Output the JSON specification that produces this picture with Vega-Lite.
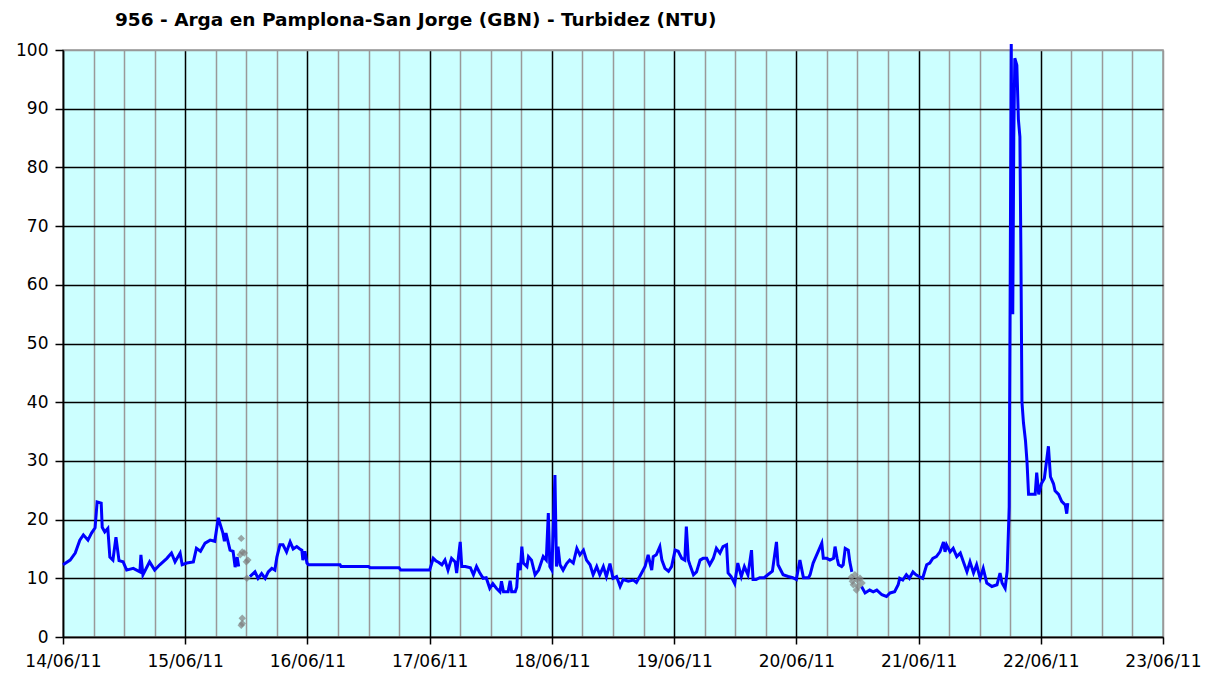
{
  "$schema": "https://vega.github.io/schema/vega-lite/v6.json",
  "width": 1100,
  "height": 587,
  "autosize": {"type": "none"},
  "padding": {"left": 63, "top": 50, "right": 58, "bottom": 40},
  "background": "white",
  "title": {"text": "956 - Arga en Pamplona-San Jorge (GBN) - Turbidez (NTU)", "anchor": "start", "frame": "group", "dx": 52, "fontSize": 18.5, "font": "DejaVu Sans", "fontWeight": "bold", "color": "black", "offset": 9},
  "config": {
    "view": {"fill": "#CCFFFF", "stroke": "#999999", "strokeWidth": 1.5},
    "axis": {"labelFont": "DejaVu Sans", "labelFontSize": 17, "labelColor": "black", "domainColor": "black", "domainWidth": 1.5, "tickColor": "black", "tickWidth": 1.5, "gridWidth": 1.5}
  },
  "datasets": {
    "turb": [
      {"t": "2011-06-14T00:00:00Z", "v": 12.3, "seg": 1},
      {"t": "2011-06-14T01:24:00Z", "v": 13.1, "seg": 1},
      {"t": "2011-06-14T02:24:00Z", "v": 14.3, "seg": 1},
      {"t": "2011-06-14T03:18:00Z", "v": 16.5, "seg": 1},
      {"t": "2011-06-14T04:00:00Z", "v": 17.4, "seg": 1},
      {"t": "2011-06-14T04:54:00Z", "v": 16.5, "seg": 1},
      {"t": "2011-06-14T05:36:00Z", "v": 17.7, "seg": 1},
      {"t": "2011-06-14T06:18:00Z", "v": 18.6, "seg": 1},
      {"t": "2011-06-14T06:42:00Z", "v": 23.0, "seg": 1},
      {"t": "2011-06-14T07:30:00Z", "v": 22.8, "seg": 1},
      {"t": "2011-06-14T07:42:00Z", "v": 18.7, "seg": 1},
      {"t": "2011-06-14T08:12:00Z", "v": 17.9, "seg": 1},
      {"t": "2011-06-14T08:48:00Z", "v": 18.5, "seg": 1},
      {"t": "2011-06-14T09:12:00Z", "v": 13.6, "seg": 1},
      {"t": "2011-06-14T09:48:00Z", "v": 13.1, "seg": 1},
      {"t": "2011-06-14T10:24:00Z", "v": 17.0, "seg": 1},
      {"t": "2011-06-14T11:00:00Z", "v": 13.0, "seg": 1},
      {"t": "2011-06-14T11:48:00Z", "v": 12.8, "seg": 1},
      {"t": "2011-06-14T12:30:00Z", "v": 11.4, "seg": 1},
      {"t": "2011-06-14T13:48:00Z", "v": 11.7, "seg": 1},
      {"t": "2011-06-14T15:06:00Z", "v": 11.1, "seg": 1},
      {"t": "2011-06-14T15:18:00Z", "v": 14.0, "seg": 1},
      {"t": "2011-06-14T15:42:00Z", "v": 10.6, "seg": 1},
      {"t": "2011-06-14T17:00:00Z", "v": 12.8, "seg": 1},
      {"t": "2011-06-14T18:00:00Z", "v": 11.4, "seg": 1},
      {"t": "2011-06-14T19:00:00Z", "v": 12.3, "seg": 1},
      {"t": "2011-06-14T20:24:00Z", "v": 13.4, "seg": 1},
      {"t": "2011-06-14T21:18:00Z", "v": 14.3, "seg": 1},
      {"t": "2011-06-14T22:00:00Z", "v": 12.8, "seg": 1},
      {"t": "2011-06-14T23:00:00Z", "v": 14.3, "seg": 1},
      {"t": "2011-06-14T23:24:00Z", "v": 12.3, "seg": 1},
      {"t": "2011-06-15T00:18:00Z", "v": 12.6, "seg": 1},
      {"t": "2011-06-15T01:36:00Z", "v": 12.8, "seg": 1},
      {"t": "2011-06-15T02:12:00Z", "v": 15.1, "seg": 1},
      {"t": "2011-06-15T03:00:00Z", "v": 14.6, "seg": 1},
      {"t": "2011-06-15T03:54:00Z", "v": 16.0, "seg": 1},
      {"t": "2011-06-15T04:54:00Z", "v": 16.5, "seg": 1},
      {"t": "2011-06-15T05:48:00Z", "v": 16.3, "seg": 1},
      {"t": "2011-06-15T06:30:00Z", "v": 20.3, "seg": 1},
      {"t": "2011-06-15T06:48:00Z", "v": 19.4, "seg": 1},
      {"t": "2011-06-15T07:24:00Z", "v": 17.7, "seg": 1},
      {"t": "2011-06-15T07:42:00Z", "v": 16.3, "seg": 1},
      {"t": "2011-06-15T08:00:00Z", "v": 17.7, "seg": 1},
      {"t": "2011-06-15T08:48:00Z", "v": 14.8, "seg": 1},
      {"t": "2011-06-15T09:24:00Z", "v": 14.6, "seg": 1},
      {"t": "2011-06-15T09:48:00Z", "v": 11.9, "seg": 1},
      {"t": "2011-06-15T10:12:00Z", "v": 13.6, "seg": 1},
      {"t": "2011-06-15T10:30:00Z", "v": 12.0, "seg": 1},
      {"t": "2011-06-15T12:42:00Z", "v": 10.3, "seg": 2},
      {"t": "2011-06-15T13:42:00Z", "v": 11.1, "seg": 2},
      {"t": "2011-06-15T14:18:00Z", "v": 10.0, "seg": 2},
      {"t": "2011-06-15T15:00:00Z", "v": 10.8, "seg": 2},
      {"t": "2011-06-15T15:42:00Z", "v": 10.0, "seg": 2},
      {"t": "2011-06-15T16:18:00Z", "v": 11.1, "seg": 2},
      {"t": "2011-06-15T17:00:00Z", "v": 11.7, "seg": 2},
      {"t": "2011-06-15T17:36:00Z", "v": 11.4, "seg": 2},
      {"t": "2011-06-15T18:00:00Z", "v": 13.6, "seg": 2},
      {"t": "2011-06-15T18:36:00Z", "v": 15.7, "seg": 2},
      {"t": "2011-06-15T19:12:00Z", "v": 15.7, "seg": 2},
      {"t": "2011-06-15T19:54:00Z", "v": 14.5, "seg": 2},
      {"t": "2011-06-15T20:36:00Z", "v": 16.2, "seg": 2},
      {"t": "2011-06-15T21:12:00Z", "v": 15.0, "seg": 2},
      {"t": "2011-06-15T21:54:00Z", "v": 15.4, "seg": 2},
      {"t": "2011-06-15T22:30:00Z", "v": 15.0, "seg": 2},
      {"t": "2011-06-15T22:54:00Z", "v": 14.8, "seg": 2},
      {"t": "2011-06-15T23:06:00Z", "v": 13.1, "seg": 2},
      {"t": "2011-06-15T23:30:00Z", "v": 14.6, "seg": 2},
      {"t": "2011-06-15T23:54:00Z", "v": 12.6, "seg": 2},
      {"t": "2011-06-16T00:12:00Z", "v": 12.3, "seg": 2},
      {"t": "2011-06-16T06:24:00Z", "v": 12.3, "seg": 2},
      {"t": "2011-06-16T06:36:00Z", "v": 12.0, "seg": 2},
      {"t": "2011-06-16T12:00:00Z", "v": 12.0, "seg": 2},
      {"t": "2011-06-16T12:18:00Z", "v": 11.8, "seg": 2},
      {"t": "2011-06-16T18:00:00Z", "v": 11.8, "seg": 2},
      {"t": "2011-06-16T18:18:00Z", "v": 11.4, "seg": 2},
      {"t": "2011-06-17T00:00:00Z", "v": 11.4, "seg": 2},
      {"t": "2011-06-17T00:42:00Z", "v": 13.4, "seg": 2},
      {"t": "2011-06-17T01:12:00Z", "v": 13.0, "seg": 2},
      {"t": "2011-06-17T01:48:00Z", "v": 12.7, "seg": 2},
      {"t": "2011-06-17T02:24:00Z", "v": 12.3, "seg": 2},
      {"t": "2011-06-17T03:00:00Z", "v": 13.1, "seg": 2},
      {"t": "2011-06-17T03:36:00Z", "v": 11.4, "seg": 2},
      {"t": "2011-06-17T04:18:00Z", "v": 13.4, "seg": 2},
      {"t": "2011-06-17T05:00:00Z", "v": 12.8, "seg": 2},
      {"t": "2011-06-17T05:18:00Z", "v": 10.9, "seg": 2},
      {"t": "2011-06-17T05:36:00Z", "v": 13.2, "seg": 2},
      {"t": "2011-06-17T06:00:00Z", "v": 16.2, "seg": 2},
      {"t": "2011-06-17T06:18:00Z", "v": 12.0, "seg": 2},
      {"t": "2011-06-17T07:00:00Z", "v": 12.0, "seg": 2},
      {"t": "2011-06-17T08:00:00Z", "v": 11.8, "seg": 2},
      {"t": "2011-06-17T08:36:00Z", "v": 10.6, "seg": 2},
      {"t": "2011-06-17T09:12:00Z", "v": 12.0, "seg": 2},
      {"t": "2011-06-17T09:48:00Z", "v": 11.0, "seg": 2},
      {"t": "2011-06-17T10:30:00Z", "v": 10.0, "seg": 2},
      {"t": "2011-06-17T11:06:00Z", "v": 10.1, "seg": 2},
      {"t": "2011-06-17T11:48:00Z", "v": 8.3, "seg": 2},
      {"t": "2011-06-17T12:24:00Z", "v": 9.1, "seg": 2},
      {"t": "2011-06-17T13:06:00Z", "v": 8.3, "seg": 2},
      {"t": "2011-06-17T13:48:00Z", "v": 7.7, "seg": 2},
      {"t": "2011-06-17T14:06:00Z", "v": 9.5, "seg": 2},
      {"t": "2011-06-17T14:30:00Z", "v": 7.7, "seg": 2},
      {"t": "2011-06-17T15:24:00Z", "v": 7.7, "seg": 2},
      {"t": "2011-06-17T15:48:00Z", "v": 9.6, "seg": 2},
      {"t": "2011-06-17T16:06:00Z", "v": 7.7, "seg": 2},
      {"t": "2011-06-17T16:48:00Z", "v": 7.7, "seg": 2},
      {"t": "2011-06-17T17:06:00Z", "v": 8.5, "seg": 2},
      {"t": "2011-06-17T17:24:00Z", "v": 12.6, "seg": 2},
      {"t": "2011-06-17T17:48:00Z", "v": 11.4, "seg": 2},
      {"t": "2011-06-17T18:06:00Z", "v": 15.4, "seg": 2},
      {"t": "2011-06-17T18:24:00Z", "v": 12.6, "seg": 2},
      {"t": "2011-06-17T19:06:00Z", "v": 12.0, "seg": 2},
      {"t": "2011-06-17T19:24:00Z", "v": 13.7, "seg": 2},
      {"t": "2011-06-17T20:00:00Z", "v": 13.1, "seg": 2},
      {"t": "2011-06-17T20:42:00Z", "v": 10.6, "seg": 2},
      {"t": "2011-06-17T21:24:00Z", "v": 11.4, "seg": 2},
      {"t": "2011-06-17T22:18:00Z", "v": 13.7, "seg": 2},
      {"t": "2011-06-17T22:54:00Z", "v": 13.1, "seg": 2},
      {"t": "2011-06-17T23:18:00Z", "v": 21.1, "seg": 2},
      {"t": "2011-06-17T23:36:00Z", "v": 12.0, "seg": 2},
      {"t": "2011-06-18T00:00:00Z", "v": 11.4, "seg": 2},
      {"t": "2011-06-18T00:36:00Z", "v": 27.6, "seg": 2},
      {"t": "2011-06-18T00:54:00Z", "v": 12.0, "seg": 2},
      {"t": "2011-06-18T01:12:00Z", "v": 15.4, "seg": 2},
      {"t": "2011-06-18T01:36:00Z", "v": 12.3, "seg": 2},
      {"t": "2011-06-18T02:12:00Z", "v": 11.4, "seg": 2},
      {"t": "2011-06-18T02:54:00Z", "v": 12.5, "seg": 2},
      {"t": "2011-06-18T03:30:00Z", "v": 13.1, "seg": 2},
      {"t": "2011-06-18T04:12:00Z", "v": 12.6, "seg": 2},
      {"t": "2011-06-18T04:54:00Z", "v": 15.1, "seg": 2},
      {"t": "2011-06-18T05:30:00Z", "v": 14.0, "seg": 2},
      {"t": "2011-06-18T06:12:00Z", "v": 14.8, "seg": 2},
      {"t": "2011-06-18T06:48:00Z", "v": 13.1, "seg": 2},
      {"t": "2011-06-18T07:30:00Z", "v": 12.3, "seg": 2},
      {"t": "2011-06-18T08:06:00Z", "v": 10.6, "seg": 2},
      {"t": "2011-06-18T08:48:00Z", "v": 12.0, "seg": 2},
      {"t": "2011-06-18T09:24:00Z", "v": 10.6, "seg": 2},
      {"t": "2011-06-18T10:06:00Z", "v": 12.0, "seg": 2},
      {"t": "2011-06-18T10:42:00Z", "v": 10.3, "seg": 2},
      {"t": "2011-06-18T11:24:00Z", "v": 12.5, "seg": 2},
      {"t": "2011-06-18T12:00:00Z", "v": 10.0, "seg": 2},
      {"t": "2011-06-18T12:42:00Z", "v": 10.3, "seg": 2},
      {"t": "2011-06-18T13:24:00Z", "v": 8.6, "seg": 2},
      {"t": "2011-06-18T14:00:00Z", "v": 9.8, "seg": 2},
      {"t": "2011-06-18T15:00:00Z", "v": 9.5, "seg": 2},
      {"t": "2011-06-18T16:00:00Z", "v": 9.7, "seg": 2},
      {"t": "2011-06-18T16:36:00Z", "v": 9.3, "seg": 2},
      {"t": "2011-06-18T17:18:00Z", "v": 10.4, "seg": 2},
      {"t": "2011-06-18T18:18:00Z", "v": 12.0, "seg": 2},
      {"t": "2011-06-18T18:54:00Z", "v": 14.0, "seg": 2},
      {"t": "2011-06-18T19:36:00Z", "v": 11.4, "seg": 2},
      {"t": "2011-06-18T19:54:00Z", "v": 13.7, "seg": 2},
      {"t": "2011-06-18T20:30:00Z", "v": 14.0, "seg": 2},
      {"t": "2011-06-18T21:12:00Z", "v": 15.4, "seg": 2},
      {"t": "2011-06-18T21:36:00Z", "v": 13.1, "seg": 2},
      {"t": "2011-06-18T22:12:00Z", "v": 11.7, "seg": 2},
      {"t": "2011-06-18T22:54:00Z", "v": 11.2, "seg": 2},
      {"t": "2011-06-18T23:30:00Z", "v": 12.0, "seg": 2},
      {"t": "2011-06-19T00:12:00Z", "v": 14.8, "seg": 2},
      {"t": "2011-06-19T00:48:00Z", "v": 14.6, "seg": 2},
      {"t": "2011-06-19T01:30:00Z", "v": 13.4, "seg": 2},
      {"t": "2011-06-19T02:06:00Z", "v": 13.1, "seg": 2},
      {"t": "2011-06-19T02:24:00Z", "v": 18.8, "seg": 2},
      {"t": "2011-06-19T02:48:00Z", "v": 13.1, "seg": 2},
      {"t": "2011-06-19T03:06:00Z", "v": 12.3, "seg": 2},
      {"t": "2011-06-19T03:48:00Z", "v": 10.6, "seg": 2},
      {"t": "2011-06-19T04:24:00Z", "v": 11.1, "seg": 2},
      {"t": "2011-06-19T05:06:00Z", "v": 13.1, "seg": 2},
      {"t": "2011-06-19T05:42:00Z", "v": 13.4, "seg": 2},
      {"t": "2011-06-19T06:24:00Z", "v": 13.4, "seg": 2},
      {"t": "2011-06-19T07:00:00Z", "v": 12.3, "seg": 2},
      {"t": "2011-06-19T07:42:00Z", "v": 13.4, "seg": 2},
      {"t": "2011-06-19T08:18:00Z", "v": 15.1, "seg": 2},
      {"t": "2011-06-19T09:00:00Z", "v": 14.3, "seg": 2},
      {"t": "2011-06-19T09:36:00Z", "v": 15.4, "seg": 2},
      {"t": "2011-06-19T10:18:00Z", "v": 15.7, "seg": 2},
      {"t": "2011-06-19T10:36:00Z", "v": 10.9, "seg": 2},
      {"t": "2011-06-19T11:12:00Z", "v": 10.3, "seg": 2},
      {"t": "2011-06-19T11:54:00Z", "v": 9.1, "seg": 2},
      {"t": "2011-06-19T12:30:00Z", "v": 12.6, "seg": 2},
      {"t": "2011-06-19T13:12:00Z", "v": 10.3, "seg": 2},
      {"t": "2011-06-19T13:48:00Z", "v": 12.0, "seg": 2},
      {"t": "2011-06-19T14:30:00Z", "v": 10.6, "seg": 2},
      {"t": "2011-06-19T15:12:00Z", "v": 14.8, "seg": 2},
      {"t": "2011-06-19T15:30:00Z", "v": 9.8, "seg": 2},
      {"t": "2011-06-19T16:06:00Z", "v": 9.8, "seg": 2},
      {"t": "2011-06-19T16:48:00Z", "v": 10.1, "seg": 2},
      {"t": "2011-06-19T17:42:00Z", "v": 10.1, "seg": 2},
      {"t": "2011-06-19T18:24:00Z", "v": 10.6, "seg": 2},
      {"t": "2011-06-19T19:18:00Z", "v": 11.2, "seg": 2},
      {"t": "2011-06-19T20:06:00Z", "v": 16.2, "seg": 2},
      {"t": "2011-06-19T20:24:00Z", "v": 12.3, "seg": 2},
      {"t": "2011-06-19T21:24:00Z", "v": 10.6, "seg": 2},
      {"t": "2011-06-19T22:24:00Z", "v": 10.3, "seg": 2},
      {"t": "2011-06-19T23:18:00Z", "v": 10.1, "seg": 2},
      {"t": "2011-06-20T00:00:00Z", "v": 9.8, "seg": 2},
      {"t": "2011-06-20T00:42:00Z", "v": 13.1, "seg": 2},
      {"t": "2011-06-20T01:24:00Z", "v": 10.1, "seg": 2},
      {"t": "2011-06-20T02:24:00Z", "v": 10.1, "seg": 2},
      {"t": "2011-06-20T02:42:00Z", "v": 10.6, "seg": 2},
      {"t": "2011-06-20T03:18:00Z", "v": 12.6, "seg": 2},
      {"t": "2011-06-20T04:00:00Z", "v": 14.0, "seg": 2},
      {"t": "2011-06-20T05:00:00Z", "v": 16.0, "seg": 2},
      {"t": "2011-06-20T05:18:00Z", "v": 13.4, "seg": 2},
      {"t": "2011-06-20T06:00:00Z", "v": 13.4, "seg": 2},
      {"t": "2011-06-20T06:36:00Z", "v": 13.1, "seg": 2},
      {"t": "2011-06-20T07:18:00Z", "v": 13.4, "seg": 2},
      {"t": "2011-06-20T07:36:00Z", "v": 15.4, "seg": 2},
      {"t": "2011-06-20T08:00:00Z", "v": 13.4, "seg": 2},
      {"t": "2011-06-20T08:18:00Z", "v": 12.3, "seg": 2},
      {"t": "2011-06-20T08:54:00Z", "v": 12.0, "seg": 2},
      {"t": "2011-06-20T09:12:00Z", "v": 12.3, "seg": 2},
      {"t": "2011-06-20T09:36:00Z", "v": 15.1, "seg": 2},
      {"t": "2011-06-20T10:12:00Z", "v": 14.8, "seg": 2},
      {"t": "2011-06-20T10:30:00Z", "v": 12.8, "seg": 2},
      {"t": "2011-06-20T10:54:00Z", "v": 11.1, "seg": 2},
      {"t": "2011-06-20T12:48:00Z", "v": 8.6, "seg": 3},
      {"t": "2011-06-20T13:30:00Z", "v": 7.5, "seg": 3},
      {"t": "2011-06-20T14:24:00Z", "v": 8.0, "seg": 3},
      {"t": "2011-06-20T15:06:00Z", "v": 7.7, "seg": 3},
      {"t": "2011-06-20T15:48:00Z", "v": 8.0, "seg": 3},
      {"t": "2011-06-20T16:48:00Z", "v": 7.2, "seg": 3},
      {"t": "2011-06-20T17:42:00Z", "v": 6.9, "seg": 3},
      {"t": "2011-06-20T18:24:00Z", "v": 7.5, "seg": 3},
      {"t": "2011-06-20T19:18:00Z", "v": 7.7, "seg": 3},
      {"t": "2011-06-20T20:00:00Z", "v": 8.9, "seg": 3},
      {"t": "2011-06-20T20:18:00Z", "v": 10.0, "seg": 3},
      {"t": "2011-06-20T20:54:00Z", "v": 9.7, "seg": 3},
      {"t": "2011-06-20T21:36:00Z", "v": 10.6, "seg": 3},
      {"t": "2011-06-20T22:12:00Z", "v": 10.0, "seg": 3},
      {"t": "2011-06-20T22:54:00Z", "v": 11.1, "seg": 3},
      {"t": "2011-06-20T23:30:00Z", "v": 10.6, "seg": 3},
      {"t": "2011-06-21T00:06:00Z", "v": 10.3, "seg": 3},
      {"t": "2011-06-21T00:48:00Z", "v": 10.0, "seg": 3},
      {"t": "2011-06-21T01:36:00Z", "v": 12.3, "seg": 3},
      {"t": "2011-06-21T02:12:00Z", "v": 12.6, "seg": 3},
      {"t": "2011-06-21T02:48:00Z", "v": 13.4, "seg": 3},
      {"t": "2011-06-21T03:30:00Z", "v": 13.7, "seg": 3},
      {"t": "2011-06-21T04:12:00Z", "v": 14.5, "seg": 3},
      {"t": "2011-06-21T04:54:00Z", "v": 16.2, "seg": 3},
      {"t": "2011-06-21T05:12:00Z", "v": 14.5, "seg": 3},
      {"t": "2011-06-21T05:30:00Z", "v": 15.7, "seg": 3},
      {"t": "2011-06-21T06:12:00Z", "v": 14.5, "seg": 3},
      {"t": "2011-06-21T06:48:00Z", "v": 15.1, "seg": 3},
      {"t": "2011-06-21T07:30:00Z", "v": 13.7, "seg": 3},
      {"t": "2011-06-21T08:12:00Z", "v": 14.3, "seg": 3},
      {"t": "2011-06-21T08:48:00Z", "v": 12.8, "seg": 3},
      {"t": "2011-06-21T09:30:00Z", "v": 11.1, "seg": 3},
      {"t": "2011-06-21T10:06:00Z", "v": 12.8, "seg": 3},
      {"t": "2011-06-21T10:48:00Z", "v": 10.9, "seg": 3},
      {"t": "2011-06-21T11:24:00Z", "v": 12.3, "seg": 3},
      {"t": "2011-06-21T12:06:00Z", "v": 10.0, "seg": 3},
      {"t": "2011-06-21T12:42:00Z", "v": 11.7, "seg": 3},
      {"t": "2011-06-21T13:24:00Z", "v": 9.2, "seg": 3},
      {"t": "2011-06-21T14:24:00Z", "v": 8.6, "seg": 3},
      {"t": "2011-06-21T15:24:00Z", "v": 8.9, "seg": 3},
      {"t": "2011-06-21T16:00:00Z", "v": 10.9, "seg": 3},
      {"t": "2011-06-21T16:24:00Z", "v": 9.2, "seg": 3},
      {"t": "2011-06-21T17:00:00Z", "v": 8.3, "seg": 3},
      {"t": "2011-06-21T17:24:00Z", "v": 11.2, "seg": 3},
      {"t": "2011-06-21T17:48:00Z", "v": 22.2, "seg": 3},
      {"t": "2011-06-21T18:12:00Z", "v": 101.0, "seg": 3},
      {"t": "2011-06-21T18:30:00Z", "v": 55.0, "seg": 3},
      {"t": "2011-06-21T18:42:00Z", "v": 85.0, "seg": 3},
      {"t": "2011-06-21T18:54:00Z", "v": 98.6, "seg": 3},
      {"t": "2011-06-21T19:18:00Z", "v": 97.4, "seg": 3},
      {"t": "2011-06-21T19:36:00Z", "v": 88.2, "seg": 3},
      {"t": "2011-06-21T19:54:00Z", "v": 85.2, "seg": 3},
      {"t": "2011-06-21T20:06:00Z", "v": 65.1, "seg": 3},
      {"t": "2011-06-21T20:18:00Z", "v": 40.1, "seg": 3},
      {"t": "2011-06-21T20:36:00Z", "v": 36.5, "seg": 3},
      {"t": "2011-06-21T21:00:00Z", "v": 33.4, "seg": 3},
      {"t": "2011-06-21T21:18:00Z", "v": 29.8, "seg": 3},
      {"t": "2011-06-21T21:36:00Z", "v": 24.3, "seg": 3},
      {"t": "2011-06-21T22:12:00Z", "v": 24.3, "seg": 3},
      {"t": "2011-06-21T22:54:00Z", "v": 24.3, "seg": 3},
      {"t": "2011-06-21T23:12:00Z", "v": 28.0, "seg": 3},
      {"t": "2011-06-21T23:36:00Z", "v": 24.3, "seg": 3},
      {"t": "2011-06-22T00:06:00Z", "v": 26.1, "seg": 3},
      {"t": "2011-06-22T00:42:00Z", "v": 27.0, "seg": 3},
      {"t": "2011-06-22T01:30:00Z", "v": 32.5, "seg": 3},
      {"t": "2011-06-22T01:54:00Z", "v": 27.3, "seg": 3},
      {"t": "2011-06-22T02:30:00Z", "v": 26.1, "seg": 3},
      {"t": "2011-06-22T02:48:00Z", "v": 24.9, "seg": 3},
      {"t": "2011-06-22T03:30:00Z", "v": 24.3, "seg": 3},
      {"t": "2011-06-22T04:06:00Z", "v": 23.1, "seg": 3},
      {"t": "2011-06-22T04:48:00Z", "v": 22.5, "seg": 3},
      {"t": "2011-06-22T05:06:00Z", "v": 21.0, "seg": 3},
      {"t": "2011-06-22T05:18:00Z", "v": 22.8, "seg": 3}
    ],
    "flagged": [
      {"t": "2011-06-15T10:48:00Z", "v": 14.0},
      {"t": "2011-06-15T11:00:00Z", "v": 16.8},
      {"t": "2011-06-15T11:12:00Z", "v": 14.5},
      {"t": "2011-06-15T11:36:00Z", "v": 14.3},
      {"t": "2011-06-15T12:00:00Z", "v": 12.8},
      {"t": "2011-06-15T12:18:00Z", "v": 13.1},
      {"t": "2011-06-15T12:06:00Z", "v": 10.0},
      {"t": "2011-06-15T11:12:00Z", "v": 3.2},
      {"t": "2011-06-15T11:12:00Z", "v": 2.3},
      {"t": "2011-06-15T11:00:00Z", "v": 2.0},
      {"t": "2011-06-20T10:48:00Z", "v": 10.2},
      {"t": "2011-06-20T11:00:00Z", "v": 9.5},
      {"t": "2011-06-20T11:12:00Z", "v": 8.9},
      {"t": "2011-06-20T11:30:00Z", "v": 10.6},
      {"t": "2011-06-20T11:48:00Z", "v": 8.0},
      {"t": "2011-06-20T12:00:00Z", "v": 9.7},
      {"t": "2011-06-20T12:12:00Z", "v": 8.6},
      {"t": "2011-06-20T12:30:00Z", "v": 10.0},
      {"t": "2011-06-20T12:54:00Z", "v": 9.2}
    ]
  },
  "layer": [
    {
      "data": {"name": "turb"},
      "mark": {"type": "line", "color": "#0000FF", "strokeWidth": 3},
      "encoding": {
        "x": {
          "field": "t", "type": "temporal",
          "scale": {"type": "utc", "domain": [1308009600000, 1308787200000]},
          "axis": {
            "format": "%d/%m/%y",
            "tickCount": 60,
            "values": [1308009600000, 1308031200000, 1308052800000, 1308074400000, 1308096000000, 1308117600000, 1308139200000, 1308160800000, 1308182400000, 1308204000000, 1308225600000, 1308247200000, 1308268800000, 1308290400000, 1308312000000, 1308333600000, 1308355200000, 1308376800000, 1308398400000, 1308420000000, 1308441600000, 1308463200000, 1308484800000, 1308506400000, 1308528000000, 1308549600000, 1308571200000, 1308592800000, 1308614400000, 1308636000000, 1308657600000, 1308679200000, 1308700800000, 1308722400000, 1308744000000, 1308765600000, 1308787200000],
            "labelExpr": "utchours(datum.value) == 0 ? datum.label : ''",
            "grid": true,
            "gridColor": {"condition": {"test": "utchours(datum.value) == 0 && datum.value < 1308787200000", "value": "#000000"}, "value": "#999999"},
            "tickColor": {"condition": {"test": "utchours(datum.value) == 0", "value": "#000000"}, "value": "transparent"},
            "labelOverlap": false,
            "labelFlush": false,
            "tickSize": 7,
            "labelPadding": 9,
            "title": null
          }
        },
        "y": {
          "field": "v", "type": "quantitative",
          "scale": {"domain": [0, 100], "nice": false},
          "axis": {"values": [0, 10, 20, 30, 40, 50, 60, 70, 80, 90, 100], "grid": true, "gridColor": {"condition": {"test": "datum.value >= 100", "value": "#999999"}, "value": "#000000"}, "tickSize": 8, "labelPadding": 7, "title": null}
        },
        "detail": {"field": "seg", "type": "nominal"}
      }
    },
    {
      "data": {"name": "flagged"},
      "mark": {"type": "point", "shape": "diamond", "filled": true, "color": "#808080", "size": 55},
      "encoding": {
        "x": {"field": "t", "type": "temporal"},
        "y": {"field": "v", "type": "quantitative"}
      }
    }
  ]
}
